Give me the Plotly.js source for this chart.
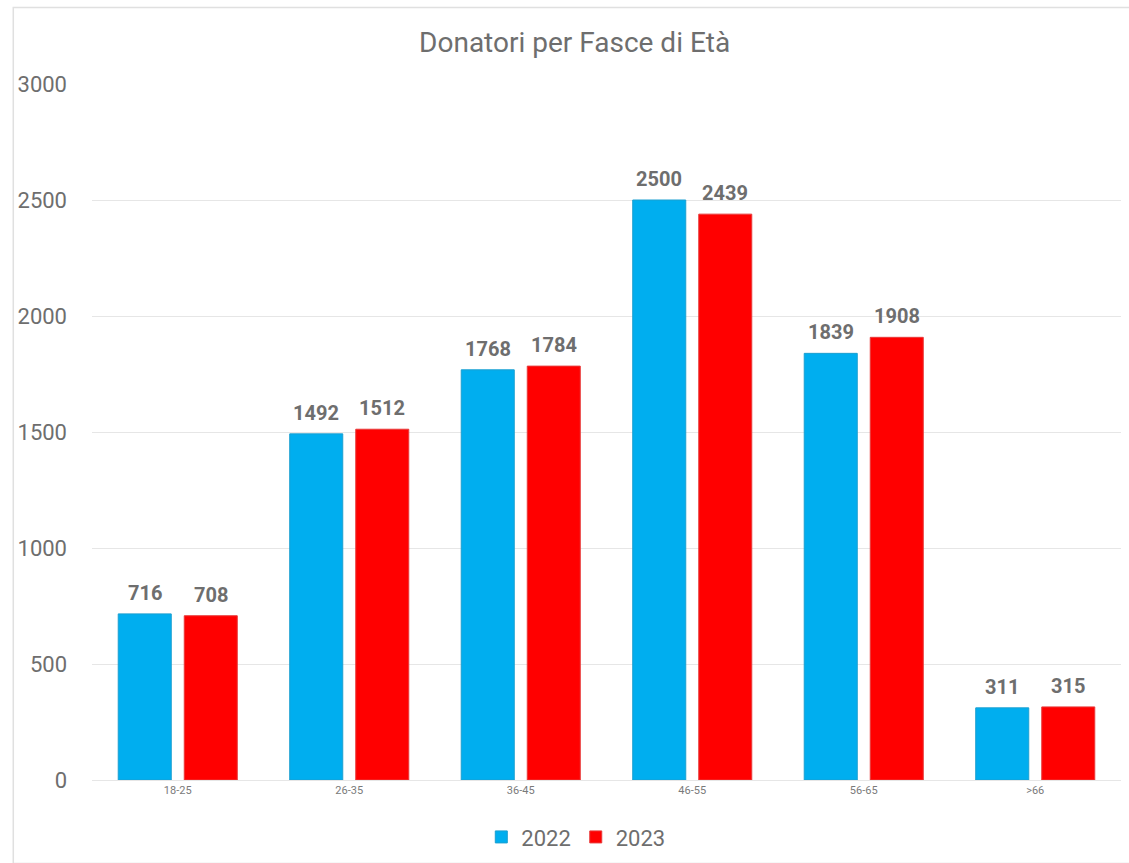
<!DOCTYPE html>
<html>
<head>
<meta charset="utf-8">
<script src="https://cdn.plot.ly/plotly-3.0.1.min.js"></script>
<style>html,body{margin:0;padding:0;background:#fff;}#chart{width:1129px;height:863px;}</style>
</head>
<body>
<div id="chart"></div>
<script>
const categories = ["18-25", "26-35", "36-45", "46-55", "56-65", ">66"];
const values2022 = [716, 1492, 1768, 2500, 1839, 311];
const values2023 = [708, 1512, 1784, 2439, 1908, 315];
const seriesNames = ["2022", "2023"];
const yTicks = [0, 500, 1000, 1500, 2000, 2500, 3000];

const labelFont = {family: "Roboto, 'Liberation Sans', Arial, sans-serif", size: 20, color: "#6e6e6e", weight: 700};

const traces = [
  {type: "bar", name: seriesNames[0], x: categories, y: values2022,
   marker: {color: "#00AEEF", line: {color: "#1a9fd0", width: 1}}},
  {type: "bar", name: seriesNames[1], x: categories, y: values2023,
   marker: {color: "#FF0000", line: {color: "#e83a3a", width: 1}}}
];

const annotations = [];
[values2022, values2023].forEach((vals, s) => {
  vals.forEach((v, i) => {
    annotations.push({x: categories[i], y: v, xref: "x", yref: "y", text: String(v), showarrow: false,
      xanchor: "center", yanchor: "bottom", xshift: s === 0 ? -33 : 33, yshift: 7, font: labelFont});
  });
});

const layout = {
  width: 1129, height: 863,
  paper_bgcolor: "#ffffff", plot_bgcolor: "#ffffff",
  margin: {l: 92, r: 8, t: 84, b: 83, autoexpand: false},
  font: {family: "Roboto, 'Liberation Sans', Arial, sans-serif", color: "#6e6e6e"},
  title: {text: "Donatori per Fasce di Età", x: 0.509, xanchor: "center", y: 0.951, yanchor: "middle",
          font: {size: 28, color: "#6e6e6e"}},
  barmode: "group", bargap: 0.23, bargroupgap: 0.197,
  xaxis: {type: "category", tickfont: {size: 11, color: "#7a7a7a"}, showline: true, linecolor: "#e6e6e6",
          linewidth: 1, ticks: "", showgrid: false, zeroline: false, automargin: false},
  yaxis: {range: [0, 3000], tickvals: yTicks, ticktext: yTicks.map(String), tickfont: {size: 22, color: "#6e6e6e"},
          gridcolor: "#e6e6e6", gridwidth: 1, zeroline: false, showline: false, ticks: "", ticklabelstandoff: 24,
          automargin: false},
  showlegend: true,
  legend: {orientation: "h", xref: "container", yref: "container", x: 0.51, xanchor: "center", y: 0.030, yanchor: "middle",
           font: {size: 22, color: "#6e6e6e"}, itemwidth: 30, traceorder: "normal"},
  annotations: annotations,
  shapes: [{type: "rect", xref: "paper", yref: "paper", x0: -0.0765, x1: 1.01, y0: -0.12, y1: 1.11,
            line: {color: "#e0e0e0", width: 1.5}, fillcolor: "rgba(0,0,0,0)", layer: "below"}]
};

Plotly.newPlot("chart", traces, layout, {displayModeBar: false, staticPlot: true});
</script>
</body>
</html>
